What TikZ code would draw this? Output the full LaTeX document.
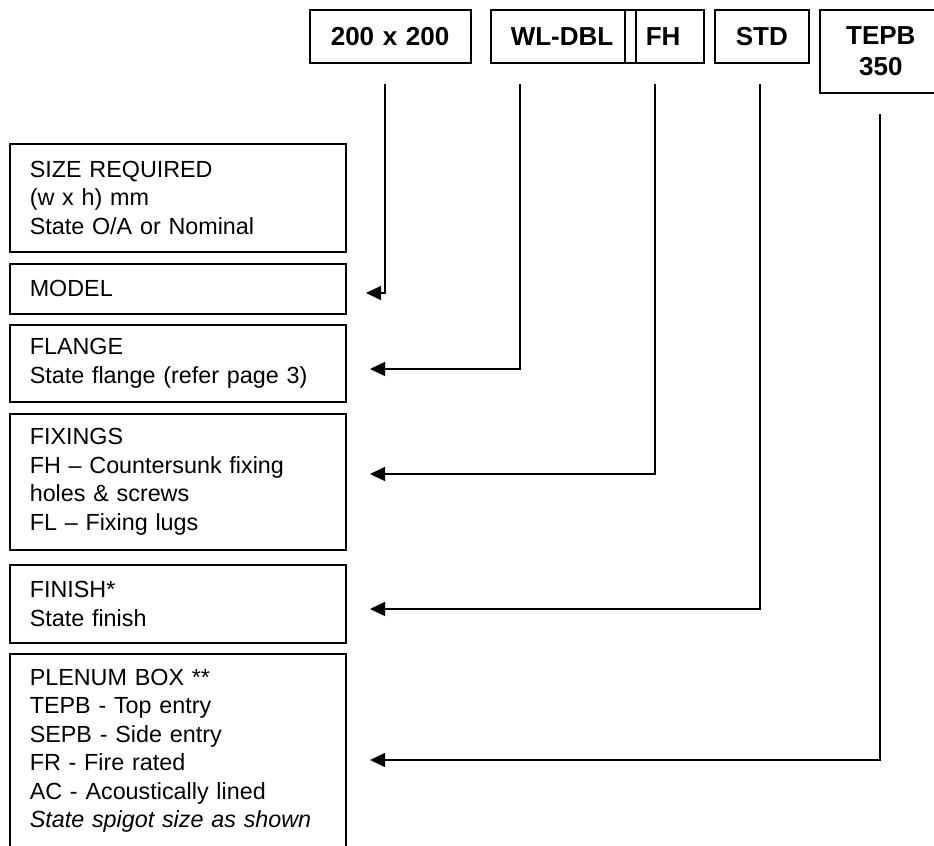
\documentclass[tikz,border=0pt]{standalone}
\usepackage{fontspec}
\setmainfont{Liberation Sans}
\usetikzlibrary{arrows.meta}
\begin{document}
\begin{tikzpicture}[x=0.75pt,y=-0.75pt,
  topbox/.style={draw, line width=1.2pt, inner sep=0pt, anchor=north west,
    minimum height=39.75pt, align=left,
    font=\fontsize{19.5}{23.25}\selectfont\bfseries},
  lbox/.style={draw, line width=1.2pt, inner xsep=15pt, inner ysep=0pt,
    anchor=north west, align=left, text width=222pt,
    font=\fontsize{17.5}{21.4}\selectfont},
  conn/.style={line width=1pt, -{Triangle[length=11.25pt,width=10.5pt]}}
]
\useasboundingbox (0,0) rectangle (934,845);

% top code boxes
\node[topbox, minimum width=120.75pt, text width=89.25pt] (size) at (309,9) {\mbox{200 x 200}};
\node[topbox, minimum width=100.5pt, text width=70.5pt] (model) at (490,9) {\mbox{WL-DBL}};
\node[draw, line width=1.2pt, inner sep=0pt, anchor=north west, minimum width=8.25pt, minimum height=39.75pt] (gap) at (624,9) {};
\node[topbox, minimum width=51pt, text width=36pt] (fix) at (635,9) {\mbox{FH}};
\node[topbox, minimum width=70.5pt, text width=39pt] (finish) at (714,9) {\mbox{STD}};
\node[topbox, minimum width=91.5pt, minimum height=62.25pt, text width=91.5pt, align=center] (plenum) at (819,9) {TEPB\\350};

% left description boxes
\node[lbox, minimum height=81pt] (dsize) at (9,143) {SIZE REQUIRED\\(w x h) mm\\State O/A or Nominal};
\node[lbox, minimum height=37.5pt] (dmodel) at (9,263) {MODEL};
\node[lbox, minimum height=57.75pt] (dflange) at (9,324) {FLANGE\\State flange (refer page 3)};
\node[lbox, minimum height=102pt] (dfix) at (9,413) {FIXINGS\\FH -- Countersunk fixing\\holes \& screws\\FL -- Fixing lugs};
\node[lbox, minimum height=58.5pt] (dfinish) at (9,564) {FINISH*\\State finish};
\node[lbox, minimum height=163pt] (dplenum) at (9,653) {PLENUM BOX **\\TEPB - Top entry\\SEPB - Side entry\\FR - Fire rated\\AC - Acoustically lined\\\textit{State spigot size as shown}\\\mbox{}};

% connector ends
\coordinate (s1) at (385,84);
\coordinate (s2) at (520,84);
\coordinate (s3) at (655,84);
\coordinate (s4) at (760,84);
\coordinate (s5) at (880,114);
\coordinate (e1) at (366,293);
\coordinate (e2) at (370,369);
\coordinate (e3) at (370,474);
\coordinate (e4) at (370,609);
\coordinate (e5) at (370,760);

\draw[conn] (s1) |- (e1);
\draw[conn] (s2) |- (e2);
\draw[conn] (s3) |- (e3);
\draw[conn] (s4) |- (e4);
\draw[conn] (s5) |- (e5);
\end{tikzpicture}
\end{document}
